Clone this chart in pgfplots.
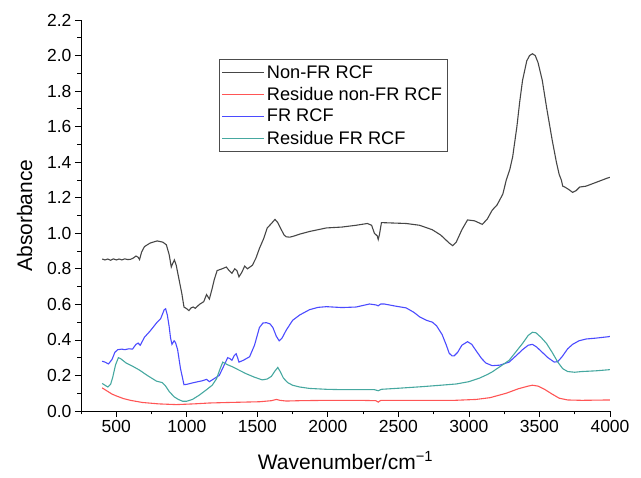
\documentclass[border=0pt]{standalone}
\usepackage{pgfplots}
\pgfplotsset{compat=1.18}
\usepackage{fontspec}
\setmainfont{Liberation Sans}
\definecolor{cblack}{RGB}{70,70,70}
\definecolor{cred}{RGB}{255,85,85}
\definecolor{cblue}{RGB}{75,75,255}
\definecolor{cteal}{RGB}{70,168,160}
\begin{document}
\begin{tikzpicture}
\path[use as bounding box] (-81pt,-67pt) rectangle (560pt,411pt);
\begin{axis}[
  scale only axis, width=529pt, height=391pt,
  xmin=250, xmax=4000, ymin=0, ymax=2.2,
  axis x line*=bottom, axis y line*=left,
  axis line style={black, line width=0.8pt},
  tick align=outside,
  major tick length=6pt, minor tick length=3.5pt,
  tick style={black, line width=0.8pt},
  xtick={500,1000,...,4000}, minor xtick={250,750,...,3750},
  ytick={0,0.2,...,2.2}, minor ytick={0.1,0.3,...,2.1},
  yticklabel style={/pgf/number format/.cd, fixed, fixed zerofill, precision=1},
  xticklabel style={/pgf/number format/.cd, 1000 sep={}},
  /pgf/number format/assume math mode=true,
  tick label style={font=\fontsize{17.5}{19}\selectfont},
  xlabel={Wavenumber/cm\textsuperscript{−1}},
  ylabel={Absorbance},
  label style={font=\fontsize{21}{24}\selectfont},
  xlabel style={yshift=-12pt},
  ylabel style={yshift=8pt},
  legend style={at={(0.260,0.900)}, anchor=north west, draw=black!70, line width=0.6pt,
    font=\fontsize{18.2}{20}\selectfont, row sep=3.5pt, inner xsep=3pt, inner ysep=4pt},
  legend cell align=left,
  legend image code/.code={\draw[#1] (0pt,0pt) -- (42pt,0pt);},
  every axis plot/.append style={line width=1.1pt},
]
\addplot[cblack] coordinates {(400,0.855)(420,0.85)(440,0.855)(460,0.848)(480,0.856)(500,0.85)(520,0.855)(540,0.85)(560,0.856)(580,0.852)(600,0.853)(620,0.86)(640,0.872)(655,0.865)(665,0.852)(680,0.895)(700,0.925)(740,0.945)(790,0.957)(830,0.95)(855,0.935)(875,0.88)(890,0.81)(900,0.83)(912,0.85)(925,0.82)(945,0.74)(965,0.66)(980,0.585)(1000,0.575)(1015,0.565)(1030,0.58)(1045,0.585)(1060,0.578)(1090,0.6)(1120,0.615)(1140,0.655)(1160,0.63)(1180,0.69)(1195,0.74)(1215,0.79)(1250,0.8)(1280,0.81)(1300,0.79)(1320,0.775)(1340,0.80)(1355,0.79)(1370,0.755)(1390,0.78)(1410,0.815)(1430,0.80)(1465,0.82)(1490,0.86)(1515,0.915)(1545,0.97)(1570,1.03)(1600,1.055)(1625,1.078)(1645,1.06)(1670,1.02)(1690,0.99)(1705,0.98)(1730,0.978)(1750,0.982)(1800,0.995)(1870,1.01)(1930,1.02)(1990,1.03)(2100,1.035)(2200,1.045)(2280,1.055)(2310,1.045)(2330,1.0)(2350,0.985)(2357,0.965)(2365,0.99)(2380,1.06)(2450,1.058)(2555,1.055)(2650,1.045)(2740,1.02)(2800,0.99)(2860,0.945)(2885,0.93)(2910,0.95)(2950,1.02)(2990,1.075)(3040,1.07)(3095,1.05)(3130,1.08)(3165,1.13)(3200,1.16)(3240,1.22)(3265,1.30)(3290,1.36)(3310,1.43)(3340,1.60)(3360,1.74)(3380,1.86)(3410,1.97)(3430,2.0)(3450,2.01)(3470,2.0)(3490,1.96)(3520,1.86)(3550,1.71)(3590,1.525)(3620,1.40)(3640,1.33)(3655,1.30)(3665,1.265)(3680,1.26)(3710,1.245)(3735,1.23)(3760,1.24)(3785,1.26)(3830,1.265)(3880,1.28)(3930,1.295)(3980,1.31)(4000,1.315)};
\addlegendentry{Non-FR RCF}
\addplot[cred] coordinates {(400,0.13)(430,0.115)(470,0.095)(500,0.085)(550,0.07)(600,0.06)(685,0.048)(800,0.04)(925,0.036)(1050,0.04)(1160,0.045)(1300,0.048)(1515,0.052)(1600,0.058)(1635,0.065)(1660,0.06)(1705,0.056)(1800,0.058)(2000,0.06)(2225,0.06)(2340,0.058)(2357,0.05)(2375,0.06)(2600,0.06)(2900,0.06)(3050,0.065)(3150,0.075)(3265,0.10)(3350,0.125)(3420,0.14)(3450,0.145)(3490,0.14)(3540,0.12)(3590,0.095)(3640,0.072)(3700,0.062)(3800,0.06)(3990,0.062)(4000,0.062)};
\addlegendentry{Residue non-FR RCF}
\addplot[cblue] coordinates {(400,0.28)(420,0.275)(445,0.265)(470,0.29)(490,0.33)(510,0.345)(540,0.348)(560,0.345)(590,0.35)(615,0.348)(640,0.375)(655,0.382)(670,0.37)(700,0.415)(740,0.45)(785,0.495)(815,0.52)(840,0.57)(850,0.575)(862,0.54)(875,0.475)(885,0.41)(895,0.375)(910,0.395)(920,0.385)(935,0.345)(955,0.24)(980,0.148)(1000,0.15)(1040,0.158)(1080,0.165)(1110,0.17)(1140,0.178)(1160,0.165)(1190,0.18)(1230,0.20)(1260,0.25)(1290,0.30)(1305,0.295)(1320,0.285)(1335,0.31)(1350,0.322)(1360,0.30)(1370,0.275)(1400,0.285)(1445,0.305)(1480,0.37)(1515,0.47)(1540,0.495)(1565,0.497)(1590,0.49)(1610,0.47)(1635,0.42)(1655,0.395)(1675,0.41)(1705,0.455)(1750,0.51)(1800,0.54)(1870,0.57)(1930,0.583)(1990,0.587)(2100,0.582)(2200,0.585)(2295,0.602)(2340,0.597)(2357,0.592)(2375,0.602)(2400,0.602)(2480,0.59)(2555,0.58)(2610,0.555)(2650,0.53)(2700,0.51)(2740,0.50)(2770,0.48)(2810,0.43)(2840,0.37)(2860,0.325)(2880,0.31)(2895,0.31)(2920,0.33)(2950,0.37)(2990,0.39)(3020,0.375)(3050,0.34)(3090,0.295)(3120,0.27)(3165,0.255)(3220,0.258)(3285,0.275)(3340,0.315)(3380,0.345)(3420,0.37)(3450,0.375)(3480,0.36)(3520,0.33)(3560,0.30)(3605,0.275)(3630,0.278)(3660,0.305)(3700,0.35)(3735,0.375)(3780,0.395)(3830,0.405)(3900,0.41)(3990,0.418)(4000,0.42)};
\addlegendentry{FR RCF}
\addplot[cteal] coordinates {(400,0.155)(420,0.145)(440,0.135)(460,0.15)(475,0.19)(495,0.26)(515,0.30)(530,0.295)(570,0.27)(620,0.25)(665,0.23)(720,0.2)(785,0.168)(825,0.16)(850,0.14)(875,0.11)(910,0.08)(940,0.065)(970,0.055)(1000,0.055)(1040,0.065)(1090,0.09)(1140,0.12)(1180,0.145)(1210,0.18)(1235,0.235)(1255,0.275)(1290,0.26)(1320,0.25)(1370,0.23)(1420,0.21)(1480,0.19)(1535,0.175)(1570,0.18)(1600,0.195)(1625,0.225)(1645,0.245)(1660,0.225)(1685,0.185)(1715,0.16)(1750,0.145)(1800,0.135)(1870,0.127)(1990,0.122)(2100,0.12)(2225,0.12)(2330,0.12)(2357,0.114)(2380,0.122)(2500,0.128)(2670,0.137)(2800,0.145)(2910,0.152)(3000,0.165)(3075,0.185)(3130,0.205)(3165,0.22)(3230,0.255)(3285,0.285)(3330,0.33)(3380,0.38)(3420,0.425)(3450,0.443)(3475,0.44)(3510,0.415)(3550,0.38)(3590,0.33)(3630,0.275)(3665,0.238)(3700,0.222)(3750,0.218)(3800,0.222)(3900,0.226)(3990,0.232)(4000,0.233)};
\addlegendentry{Residue FR RCF}
\end{axis}
\end{tikzpicture}
\end{document}
